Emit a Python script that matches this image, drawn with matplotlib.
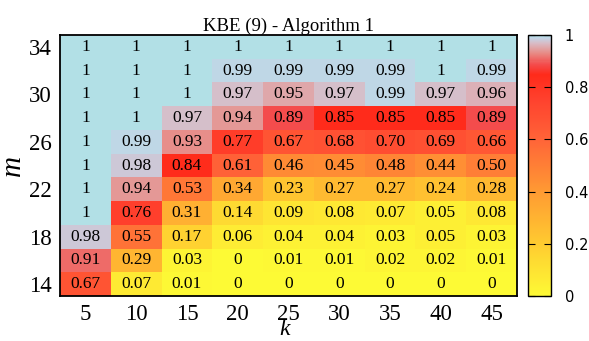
import numpy as np
import matplotlib.pyplot as plt
from matplotlib.colors import LinearSegmentedColormap

# data
k_vals = [5, 10, 15, 20, 25, 30, 35, 40, 45]
m_vals = [14, 16, 18, 20, 22, 24, 26, 28, 30, 32, 34]

# rows from m=14 (bottom) to m=34 (top)
row_14 = [0.67, 0.07, 0.01, 0, 0, 0, 0, 0, 0]
row_16 = [0.91, 0.29, 0.03, 0, 0.01, 0.01, 0.02, 0.02, 0.01]
row_18 = [0.98, 0.55, 0.17, 0.06, 0.04, 0.04, 0.03, 0.05, 0.03]
row_20 = [1, 0.76, 0.31, 0.14, 0.09, 0.08, 0.07, 0.05, 0.08]
row_22 = [1, 0.94, 0.53, 0.34, 0.23, 0.27, 0.27, 0.24, 0.28]
row_24 = [1, 0.98, 0.84, 0.61, 0.46, 0.45, 0.48, 0.44, 0.50]
row_26 = [1, 0.99, 0.93, 0.77, 0.67, 0.68, 0.70, 0.69, 0.66]
row_28 = [1, 1, 0.97, 0.94, 0.89, 0.85, 0.85, 0.85, 0.89]
row_30 = [1, 1, 1, 0.97, 0.95, 0.97, 0.99, 0.97, 0.96]
row_32 = [1, 1, 1, 0.99, 0.99, 0.99, 0.99, 1, 0.99]
row_34 = [1, 1, 1, 1, 1, 1, 1, 1, 1]

data = np.array([row_14, row_16, row_18, row_20, row_22, row_24,
                 row_26, row_28, row_30, row_32, row_34])

cmap = LinearSegmentedColormap.from_list("kbe", [
    (0.0, "#fdfa35"),
    (0.2, "#ffcb30"),
    (0.4, "#ff9a33"),
    (0.6, "#ff6438"),
    (0.75, "#ff422e"),
    (0.85, "#ff2a1a"),
    (0.89, "#f44c4c"),
    (0.93, "#e88a84"),
    (0.97, "#d8bcc6"),
    (0.99, "#c2d4e6"),
    (1.0, "#b2e0e6"),
])

plt.rcParams['font.family'] = ['Liberation Serif', 'DejaVu Serif']

fig = plt.figure(figsize=(5.89, 3.41), dpi=100)
ax = fig.add_axes([60 / 589, 45 / 341, 457 / 589, 261 / 341])
cax = fig.add_axes([528 / 589, 45 / 341, 23 / 589, 261 / 341])

im = ax.pcolormesh(np.arange(len(k_vals) + 1), np.arange(len(m_vals) + 1), data,
                   cmap=cmap, vmin=0, vmax=1)

for i in range(len(m_vals)):
    for j in range(len(k_vals)):
        v = data[i, j]
        txt = "%d" % v if v in (0, 1) else "%.2f" % v
        ax.text(j + 0.5, i + 0.5, txt, ha='center', va='center', fontsize=12.5)

ax.set_xticks(np.arange(len(k_vals)) + 0.5)
ax.set_xticklabels([str(k) for k in k_vals], fontsize=16.5)
ax.set_yticks(np.arange(0, len(m_vals), 2) + 0.5)
ax.set_yticklabels([str(m) for m in m_vals[::2]], fontsize=16.5)
ax.tick_params(length=0, pad=6)
for s in ax.spines.values():
    s.set_linewidth(1.3)

ax.set_title("KBE (9) - Algorithm 1", fontsize=13.5, pad=3)
# x label placed by hand, sits right under the "25" tick like the original
fig.text(285 / 589, 1 / 341, "k", fontsize=17, style='italic', ha='center', va='bottom')
ax.set_ylabel("m", fontsize=21, style='italic', labelpad=2)

cb = fig.colorbar(im, cax=cax, ticks=[0, 0.2, 0.4, 0.6, 0.8, 1])
cb.ax.set_yticklabels(["0", "0.2", "0.4", "0.6", "0.8", "1"], family='DejaVu Sans', fontsize=10.5)
cb.ax.tick_params(direction='in', length=5, width=0.8, left=True, right=True, pad=10)
cb.outline.set_linewidth(1.0)

plt.savefig("out.png", dpi=100)
